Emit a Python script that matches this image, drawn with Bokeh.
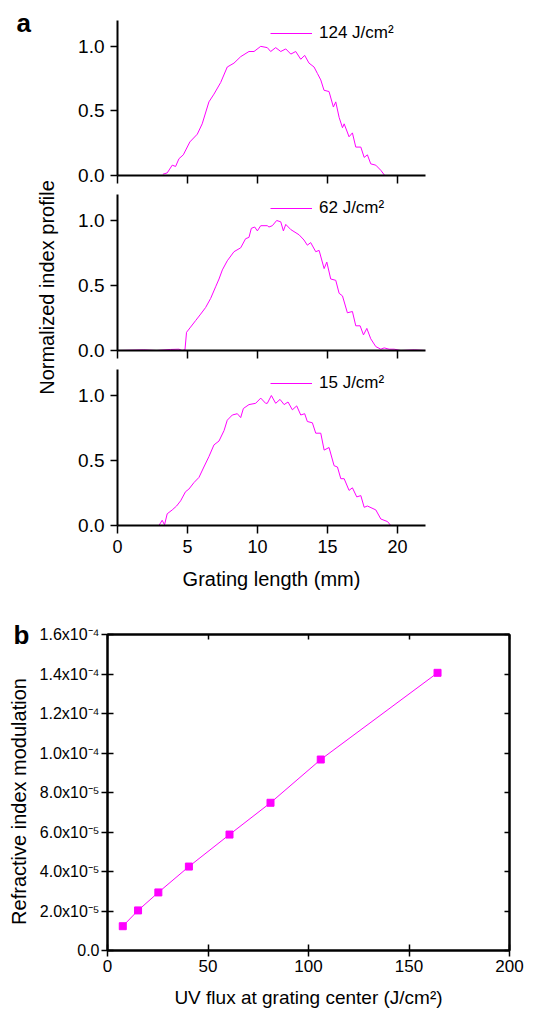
import math
from bokeh.plotting import figure
from bokeh.layouts import column, row
from bokeh.models import (Range1d, FixedTicker, LinearAxis, Legend, LegendItem,
                          NumeralTickFormatter)
from bokeh.core.properties import value
from bokeh.embed import file_html
from bokeh.resources import INLINE

FONT = "Liberation Sans"
MAGENTA = "#FF00FF"

# ---------------- data: panel a ----------------
x124 = [3.24, 3.55, 3.91, 4.15, 4.39, 4.70, 5.17, 5.70, 6.05, 6.53,
        6.89, 7.37, 7.84, 8.32, 8.80, 9.39, 9.75, 10.23, 10.70, 10.94,
        11.30, 11.66, 12.02, 12.38, 12.73, 13.09, 13.37, 13.68, 14.04, 14.28,
        14.52, 14.75, 15.11, 15.42, 15.59, 15.83, 16.07, 16.19, 16.54, 16.78,
        17.02, 17.38, 17.62, 17.85, 18.09, 18.45, 18.81, 19.09]
y124 = [0.01, 0.02, 0.08, 0.07, 0.13, 0.16, 0.26, 0.32, 0.40, 0.57,
        0.63, 0.72, 0.84, 0.87, 0.92, 0.96, 0.96, 1.00, 0.99, 0.96,
        0.99, 0.96, 0.98, 0.94, 0.96, 0.90, 0.93, 0.87, 0.84, 0.79,
        0.74, 0.66, 0.65, 0.53, 0.57, 0.45, 0.37, 0.40, 0.30, 0.33,
        0.22, 0.22, 0.14, 0.16, 0.09, 0.08, 0.04, 0.00]

x62 = [0.0, 1.88, 2.8, 3.79, 4.39, 4.62, 4.82, 4.93, 5.22, 5.58,
       5.94, 6.29, 6.65, 7.01, 7.25, 7.49, 7.84, 8.32, 8.80, 9.15,
       9.39, 9.56, 9.80, 9.99, 10.23, 10.70, 10.82, 11.06, 11.37, 11.66,
       11.85, 12.02, 12.38, 12.97, 13.32, 13.56, 13.80, 14.16, 14.40, 14.76,
       14.95, 15.23, 15.59, 15.83, 16.07, 16.42, 16.78, 17.02, 17.33, 17.57,
       17.81, 18.09, 18.45, 18.81, 19.05, 19.40, 19.76, 20.24, 21.2, 22.0]
y62 = [0.0, 0.005, 0.0, 0.008, 0.01, 0.0, 0.005, 0.14, 0.18, 0.23,
       0.28, 0.33, 0.40, 0.49, 0.55, 0.62, 0.69, 0.76, 0.79, 0.86,
       0.87, 0.94, 0.95, 0.92, 0.96, 0.96, 0.95, 0.96, 1.00, 0.99,
       0.92, 0.97, 0.93, 0.89, 0.85, 0.81, 0.83, 0.76, 0.77, 0.63,
       0.68, 0.55, 0.54, 0.44, 0.42, 0.29, 0.30, 0.19, 0.19, 0.12,
       0.17, 0.09, 0.03, 0.01, 0.02, 0.01, 0.01, 0.0, 0.005, 0.0]

x15 = [0.0, 2.96, 3.19, 3.36, 3.55, 3.91, 4.22, 4.51, 4.86, 5.10,
       5.46, 5.82, 6.17, 6.53, 6.89, 7.25, 7.61, 7.84, 8.20, 8.56,
       8.80, 8.99, 9.39, 9.87, 10.23, 10.58, 10.70, 10.99, 11.30, 11.61,
       11.90, 12.18, 12.49, 12.80, 13.09, 13.37, 13.56, 13.92, 14.16, 14.52,
       14.76, 15.11, 15.47, 15.71, 15.95, 16.19, 16.54, 16.78, 17.09, 17.38,
       17.62, 17.85, 18.45, 18.81, 19.29, 19.52]
y15 = [0.0, 0.0, 0.04, 0.005, 0.09, 0.12, 0.15, 0.19, 0.26, 0.28,
       0.33, 0.37, 0.45, 0.53, 0.62, 0.65, 0.73, 0.81, 0.85, 0.86,
       0.83, 0.90, 0.93, 0.94, 0.98, 0.94, 0.94, 1.00, 0.94, 0.97,
       0.93, 0.95, 0.89, 0.92, 0.85, 0.86, 0.80, 0.79, 0.71, 0.71,
       0.58, 0.60, 0.46, 0.45, 0.36, 0.36, 0.27, 0.29, 0.22, 0.23,
       0.14, 0.15, 0.12, 0.05, 0.03, 0.0]

a_legends = ["124 J/cm\u00b2", "62 J/cm\u00b2", "15 J/cm\u00b2"]
a_xticks = [0, 5, 10, 15, 20]
a_yticks = [0.0, 0.5, 1.0]
a_xlabel = "Grating length (mm)"
a_ylabel = "Normalized index profile"

# ---------------- data: panel b ----------------
uv_flux = [7.6, 15.2, 25.3, 40.5, 60.7, 81.1, 106.1, 164.2]
index_mod = [1.23e-5, 2.03e-5, 2.94e-5, 4.25e-5, 5.87e-5, 7.48e-5, 9.67e-5, 1.406e-4]
b_xticks = [0, 50, 100, 150, 200]
b_yticks = [0.0, 2e-5, 4e-5, 6e-5, 8e-5, 1e-4, 1.2e-4, 1.4e-4, 1.6e-4]
b_ylabels = ["0.0", "2.0x10\u207b\u2075", "4.0x10\u207b\u2075", "6.0x10\u207b\u2075",
             "8.0x10\u207b\u2075", "1.0x10\u207b\u2074", "1.2x10\u207b\u2074",
             "1.4x10\u207b\u2074", "1.6x10\u207b\u2074"]
b_xlabel = "UV flux at grating center (J/cm\u00b2)"
b_ylabel = "Refractive index modulation"


def style_axis(ax, tick_size="19px"):
    ax.axis_line_color = "black"
    ax.axis_line_width = 2
    ax.major_tick_line_color = "black"
    ax.major_tick_line_width = 1.5
    ax.minor_tick_line_color = None
    ax.major_label_text_font = FONT
    ax.major_label_text_font_size = tick_size
    ax.major_label_text_color = "black"
    ax.axis_label_text_font = FONT
    ax.axis_label_text_font_style = "normal"
    ax.axis_label_text_font_size = "20px"
    ax.axis_label_text_color = "black"


def ticks_only(ax, ticks, tin, tout):
    """Axis that shows tick marks but no tick labels (minor ticks used)."""
    ax.ticker = FixedTicker(ticks=[], minor_ticks=ticks)
    ax.minor_tick_line_color = "black"
    ax.minor_tick_line_width = 1.5
    ax.minor_tick_in = tin
    ax.minor_tick_out = tout
    ax.major_tick_in = 0
    ax.major_tick_out = 0


def helper_fig(width, height):
    p = figure(width=width, height=height, output_backend="svg", toolbar_location=None,
               x_range=Range1d(0, width), y_range=Range1d(height, 0),
               min_border=0)
    p.axis.visible = False
    p.grid.visible = False
    p.outline_line_color = None
    p.background_fill_color = "white"
    p.border_fill_color = "white"
    return p


def panel_a(xs, ys, label, height, top, bottom, show_xlabels):
    p = figure(width=500, height=height, output_backend="svg", toolbar_location=None,
               x_range=Range1d(0, 22), y_range=Range1d(0, 1.2),
               min_border_left=57, min_border_right=135,
               min_border_top=top, min_border_bottom=bottom)
    p.outline_line_color = None
    p.xgrid.visible = False
    p.ygrid.visible = False
    p.background_fill_color = "white"
    p.border_fill_color = "white"
    r = p.line(xs, ys, line_color=MAGENTA, line_width=1)

    xa = p.xaxis[0]
    style_axis(xa, tick_size="18px")
    if show_xlabels:
        xa.ticker = FixedTicker(ticks=a_xticks)
        xa.major_tick_out = 8
        xa.major_tick_in = 0
        xa.major_label_standoff = 6
        xa.axis_label = a_xlabel
        xa.axis_label_standoff = 12
    else:
        ticks_only(xa, a_xticks, 0, 8)

    ya = p.yaxis[0]
    style_axis(ya)
    ya.ticker = FixedTicker(ticks=a_yticks)
    ya.formatter = NumeralTickFormatter(format="0.0")
    ya.major_tick_out = 7
    ya.major_tick_in = 0
    ya.major_label_standoff = 6

    leg = Legend(items=[LegendItem(label=label, renderers=[r])],
                 location=(153, 132), glyph_width=42, glyph_height=20,
                 label_height=20, label_standoff=7, padding=0, margin=0, spacing=0,
                 border_line_color=None, background_fill_alpha=0,
                 label_text_font=FONT, label_text_font_size="17px",
                 label_text_color="black")
    p.add_layout(leg)
    return p


# ---- panel a ----
pa1 = panel_a(x124, y124, a_legends[0], 190, 20, 15, False)
pa2 = panel_a(x62, y62, a_legends[1], 175, 4, 15, False)
pa3 = panel_a(x15, y15, a_legends[2], 235, 4, 75, True)

left_a = helper_fig(60, 600)
left_a.text(x=[16], y=[22], text=["a"], text_font=value(FONT), text_font_style="bold",
            text_font_size="26px", text_baseline="alphabetic", text_align="left",
            text_color="black")
left_a.text(x=[46], y=[287], text=[a_ylabel], text_font=value(FONT),
            text_font_size="20px", text_baseline="middle", text_align="center",
            angle=math.pi / 2, text_color="black")

# ---- panel b ----
pb = figure(width=530, height=414, output_backend="svg", toolbar_location=None,
            x_range=Range1d(0, 200), y_range=Range1d(0, 1.6e-4),
            min_border_left=77, min_border_right=51,
            min_border_top=34, min_border_bottom=64)
pb.xgrid.visible = False
pb.ygrid.visible = False
pb.outline_line_color = "black"
pb.outline_line_width = 2
pb.background_fill_color = "white"
pb.border_fill_color = "white"

pb.line(uv_flux, index_mod, line_color=MAGENTA, line_width=1)
pb.scatter(uv_flux, index_mod, marker="square", size=7, fill_color=MAGENTA,
           line_color=MAGENTA)

bx = pb.xaxis[0]
style_axis(bx, tick_size="17px")
bx.ticker = FixedTicker(ticks=b_xticks)
bx.major_tick_in = 6
bx.major_tick_out = 6
bx.major_label_standoff = 3
bx.axis_label = b_xlabel
bx.axis_label_text_font_size = "19px"
bx.axis_label_standoff = 12

by = pb.yaxis[0]
style_axis(by, tick_size="16px")
by.ticker = FixedTicker(ticks=b_yticks)
by.major_label_overrides = {t: s for t, s in zip(b_yticks, b_ylabels)}
by.major_tick_in = 6
by.major_tick_out = 6
by.major_label_standoff = 2

right_ax = LinearAxis()
above_ax = LinearAxis()
style_axis(right_ax)
style_axis(above_ax)
ticks_only(right_ax, b_yticks, 5, 0)
ticks_only(above_ax, b_xticks, 5, 0)
pb.add_layout(right_ax, "right")
pb.add_layout(above_ax, "above")

left_b = helper_fig(30, 414)
left_b.text(x=[13], y=[34], text=["b"], text_font=value(FONT), text_font_style="bold",
            text_font_size="26px", text_baseline="alphabetic", text_align="left",
            text_color="black")
left_b.text(x=[18], y=[201], text=[b_ylabel], text_font=value(FONT),
            text_font_size="20px", text_baseline="middle", text_align="center",
            angle=math.pi / 2, text_color="black")

layout = column(row(left_a, column(pa1, pa2, pa3, spacing=0), spacing=0),
                row(left_b, column(pb, spacing=0), spacing=0), spacing=0)
open("out.html", "w").write(file_html(layout, INLINE))
